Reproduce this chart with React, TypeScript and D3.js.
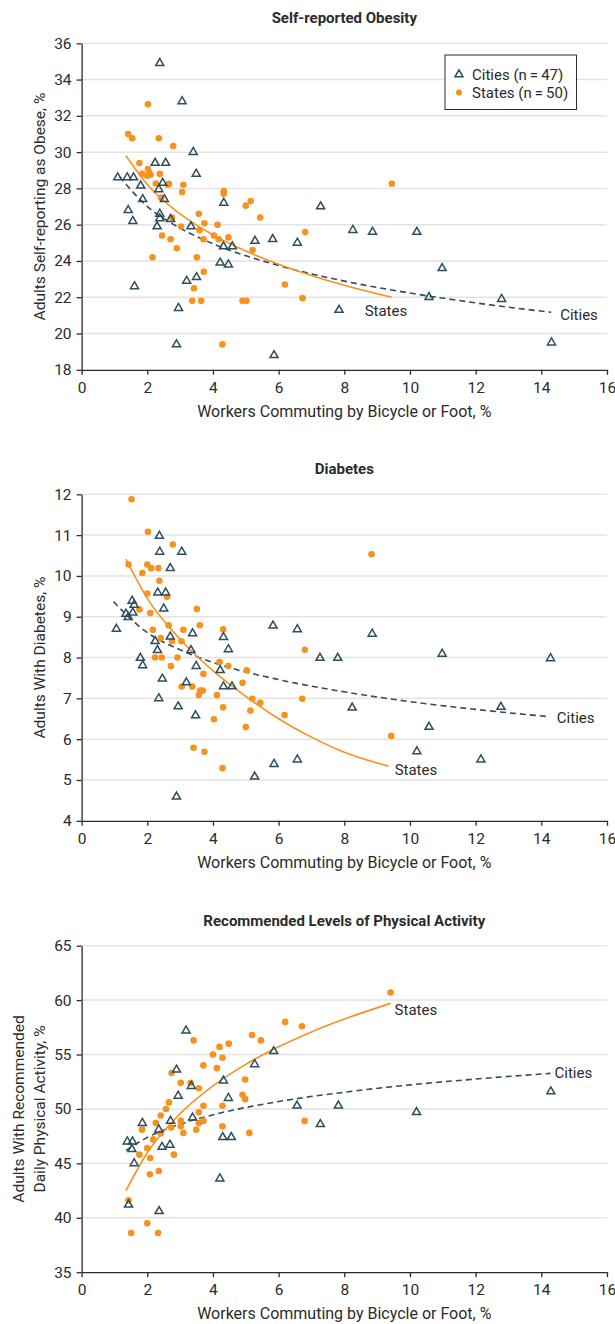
import React, { useEffect, useRef } from 'react';
import * as d3 from 'd3';

// ---- data ----
const xTicks = [0, 2, 4, 6, 8, 10, 12, 14, 16];

const obesityTicks = [18, 20, 22, 24, 26, 28, 30, 32, 34, 36];
const diabetesTicks = [4, 5, 6, 7, 8, 9, 10, 11, 12];
const activityTicks = [35, 40, 45, 50, 55, 60, 65];

const obesityCities = [
  [2.38, 34.9], [3.06, 32.8], [3.4, 30.0], [2.24, 29.4], [2.56, 29.4], [3.49, 28.8], [1.1, 28.6],
  [1.39, 28.6], [1.58, 28.6], [1.8, 28.15], [2.47, 28.3], [2.35, 27.95], [1.86, 27.4], [2.52, 27.4],
  [4.33, 27.2], [1.42, 26.8], [2.38, 26.6], [2.38, 26.35], [1.56, 26.2], [2.71, 26.3], [2.3, 25.9],
  [3.33, 25.9], [4.32, 24.8], [4.59, 24.8], [4.22, 23.9], [4.47, 23.8], [3.2, 22.9], [3.5, 23.1],
  [1.61, 22.6], [2.95, 21.4], [2.89, 19.4], [5.86, 18.8], [5.28, 25.1], [5.82, 25.2], [6.57, 25.0],
  [7.28, 27.0], [7.84, 21.3], [8.26, 25.7], [8.86, 25.6], [10.21, 25.6], [10.98, 23.6], [10.58, 22.0],
  [12.79, 21.9], [14.31, 19.5],
];
const obesityStates = [
  [2.02, 32.64], [1.42, 31.0], [1.54, 30.76], [2.35, 30.76], [2.79, 30.34], [1.76, 29.4], [1.84, 28.8],
  [2.02, 29.07], [2.06, 28.87], [2.0, 28.7], [2.1, 28.75], [2.38, 28.8], [2.26, 28.27], [2.62, 28.2],
  [2.66, 28.25], [3.1, 28.2], [3.06, 27.8], [4.33, 27.85], [4.33, 27.7], [5.0, 27.05], [5.15, 27.3],
  [2.42, 27.5], [2.75, 26.4], [3.57, 26.6], [3.74, 26.08], [5.44, 26.4], [4.14, 26.0], [3.03, 25.9],
  [3.59, 25.7], [4.03, 25.4], [4.18, 25.2], [4.47, 25.3], [3.71, 25.2], [2.45, 25.4], [2.71, 25.2],
  [2.9, 24.7], [5.21, 24.6], [6.81, 25.6], [2.16, 24.2], [3.51, 24.2], [3.72, 23.4], [3.42, 22.5],
  [3.37, 21.8], [3.64, 21.8], [4.9, 21.8], [5.02, 21.8], [6.19, 22.7], [6.73, 21.95], [4.29, 19.4],
  [9.45, 28.26],
];
const obesityCityFit = [
  [1.15, 28.65], [2, 27.01], [3, 25.81], [4, 24.95], [6, 23.75], [8, 22.89], [10, 22.23], [12, 21.69], [14.3, 21.17],
];
const obesityStateFit = [
  [1.35, 29.8], [2, 28.22], [3, 26.59], [4, 25.44], [5, 24.55], [6, 23.82], [7, 23.2], [8, 22.66], [9.45, 22.0],
];

const diabetesCities = [
  [2.37, 10.98], [2.38, 10.59], [3.05, 10.59], [2.7, 10.19], [2.32, 9.59], [2.56, 9.59], [1.54, 9.39],
  [1.6, 9.29], [2.5, 9.2], [1.35, 9.07], [1.56, 9.1], [1.42, 8.99], [1.06, 8.7], [2.7, 8.51], [3.38, 8.59],
  [4.32, 8.5], [2.24, 8.4], [2.31, 8.18], [3.33, 8.18], [4.47, 8.2], [1.79, 7.99], [1.86, 7.81],
  [3.49, 7.79], [4.22, 7.69], [2.46, 7.48], [3.19, 7.39], [4.32, 7.29], [4.58, 7.29], [2.35, 7.0],
  [2.94, 6.8], [3.47, 6.58], [5.86, 5.39], [6.57, 5.5], [5.27, 5.08], [2.89, 4.59], [5.83, 8.78],
  [6.57, 8.69], [7.26, 7.99], [7.8, 7.99], [8.85, 8.58], [10.98, 8.09], [14.28, 7.98], [8.24, 6.77],
  [12.77, 6.79], [10.58, 6.3], [10.21, 5.7], [12.16, 5.5],
];
const diabetesStates = [
  [1.52, 11.88], [2.02, 11.08], [2.78, 10.77], [1.43, 10.28], [2.0, 10.28], [2.12, 10.19], [2.34, 10.19],
  [1.85, 10.07], [2.37, 9.88], [2.0, 9.57], [2.6, 9.49], [1.76, 9.18], [3.51, 9.19], [2.09, 9.09],
  [2.65, 8.79], [3.6, 8.79], [2.17, 8.68], [3.1, 8.68], [4.31, 8.69], [2.41, 8.48], [2.75, 8.4],
  [3.04, 8.4], [2.24, 8.0], [2.44, 8.0], [2.92, 8.0], [4.2, 7.89], [2.72, 7.79], [4.47, 7.79],
  [5.03, 7.69], [3.71, 7.6], [4.9, 7.38], [3.05, 7.29], [3.37, 7.29], [3.61, 7.19], [3.69, 7.19],
  [3.57, 7.08], [4.12, 7.08], [5.2, 6.99], [5.44, 6.89], [6.72, 6.99], [4.31, 6.78], [5.14, 6.7],
  [6.18, 6.59], [4.03, 6.49], [5.0, 6.3], [3.41, 5.79], [3.74, 5.69], [4.29, 5.29], [6.8, 8.19],
  [8.83, 10.53], [9.43, 6.08],
];
const diabetesCityFit = [
  [0.97, 9.37], [2, 8.61], [3, 8.19], [4, 7.88], [6, 7.46], [8, 7.16], [10, 6.92], [12, 6.73], [14.26, 6.55],
];
const diabetesStateFit = [
  [1.35, 10.41], [2, 9.45], [3, 8.45], [4, 7.68], [5, 7.05], [6, 6.5], [7, 6.05], [8, 5.68], [9.35, 5.34],
];

const activityCities = [
  [3.18, 57.2], [5.85, 55.3], [5.27, 54.1], [2.89, 53.6], [4.32, 52.6], [3.34, 52.1], [2.94, 51.2],
  [4.47, 51.0], [6.56, 50.3], [7.82, 50.3], [3.38, 49.2], [2.71, 48.9], [1.85, 48.7], [2.35, 48.1],
  [7.27, 48.6], [1.39, 47.0], [1.55, 47.0], [1.53, 46.3], [2.69, 46.7], [2.45, 46.5], [4.3, 47.4],
  [4.56, 47.4], [1.6, 45.0], [4.21, 43.6], [1.43, 41.2], [2.36, 40.6], [10.2, 49.7], [14.29, 51.6],
];
const activityStates = [
  [6.2, 58.0], [6.71, 57.6], [5.19, 56.8], [3.41, 56.3], [5.46, 56.3], [4.48, 56.0], [4.2, 55.7],
  [4.0, 55.0], [4.29, 54.7], [3.71, 54.0], [4.12, 53.75], [2.74, 53.3], [3.02, 52.4], [3.32, 52.4],
  [4.98, 52.7], [3.57, 51.9], [4.9, 51.3], [4.98, 50.9], [2.66, 50.6], [3.71, 50.3], [4.29, 50.3],
  [2.57, 50.0], [2.41, 49.4], [3.57, 49.7], [3.02, 48.9], [3.71, 48.9], [2.26, 48.7], [3.57, 48.7],
  [6.79, 48.9], [2.73, 48.3], [3.02, 48.4], [4.29, 48.4], [1.84, 48.1], [2.41, 47.75], [3.1, 47.8],
  [3.49, 48.1], [5.11, 47.8], [2.18, 47.2], [2.0, 46.4], [1.76, 45.8], [2.81, 45.8], [2.09, 45.5],
  [2.35, 44.3], [2.08, 44.0], [1.43, 41.6], [2.0, 39.5], [1.51, 38.6], [2.33, 38.6], [9.41, 60.7],
];
const activityCityFit = [
  [1.35, 46.2], [2, 47.38], [3, 48.6], [4, 49.46], [6, 50.68], [8, 51.54], [10, 52.21], [12, 52.75], [14.28, 53.27],
];
const activityStateFit = [
  [1.35, 42.5], [2, 45.98], [3, 49.57], [4, 52.12], [5, 54.1], [6, 55.71], [7, 57.08], [8, 58.26], [9.41, 59.7],
];

const legendLabels = ['Cities (n\u2009=\u200947)', 'States (n\u2009=\u200950)'];

// ---- layout ----
const W = 615;
const H = 1324;
const FONT = 'Roboto, "Noto Sans", sans-serif';
const ORANGE = '#f6921e';
const SLATE = '#2e4d5e';
const INK = '#2b2b2b';
const GRID = '#e3e3e3';
const plotLeft = 81.6;
const plotRight = 607;
const plotH = 326.5;

const panels = [
  {
    title: 'Self-reported Obesity', yLabel: ['Adults Self-reporting as Obese, %'], top: 43.3,
    ticks: obesityTicks, cities: obesityCities, states: obesityStates,
    cityFit: obesityCityFit, stateFit: obesityStateFit,
    stateLabel: { dx: -6, dy: 19, anchor: 'middle' }, cityLabel: { dx: 9, dy: 8, anchor: 'start' }, legend: true,
  },
  {
    title: 'Diabetes', yLabel: ['Adults With Diabetes, %'], top: 494.3,
    ticks: diabetesTicks, cities: diabetesCities, states: diabetesStates,
    cityFit: diabetesCityFit, stateFit: diabetesStateFit,
    stateLabel: { dx: 6, dy: 9, anchor: 'start' }, cityLabel: { dx: 7, dy: 6, anchor: 'start' }, legend: false,
  },
  {
    title: 'Recommended Levels of Physical Activity', yLabel: ['Adults With Recommended', 'Daily Physical Activity, %'], top: 945.7,
    ticks: activityTicks, cities: activityCities, states: activityStates,
    cityFit: activityCityFit, stateFit: activityStateFit,
    stateLabel: { dx: 4, dy: 12, anchor: 'start' }, cityLabel: { dx: 4, dy: 5, anchor: 'start' }, legend: false,
  },
];

const App = () => {
  const svgRef = useRef(null);

  useEffect(() => {
    if (!svgRef.current) return;
    const svg = d3.select(svgRef.current);
    svg.selectAll('*').remove();

    const tri = d3.symbol().type(d3.symbolTriangle).size(28);

    panels.forEach((p) => {
      const bottom = p.top + plotH;
      const x = d3.scaleLinear().domain([0, 16]).range([plotLeft, plotRight]);
      const y = d3.scaleLinear()
        .domain([p.ticks[0], p.ticks[p.ticks.length - 1]])
        .range([bottom, p.top]);
      const g = svg.append('g');

      // gridlines
      g.append('g')
        .selectAll('line')
        .data(p.ticks.slice(1))
        .join('line')
        .attr('x1', plotLeft)
        .attr('x2', plotRight)
        .attr('y1', (d) => y(d))
        .attr('y2', (d) => y(d))
        .attr('stroke', GRID)
        .attr('stroke-width', 1.5);

      // axes
      const yAxis = g.append('g')
        .attr('transform', `translate(${plotLeft},0)`)
        .call(d3.axisLeft(y).tickValues(p.ticks).tickSize(5).tickSizeOuter(0).tickPadding(5));
      const xAxis = g.append('g')
        .attr('transform', `translate(0,${bottom})`)
        .call(d3.axisBottom(x).tickValues(xTicks).tickSize(5).tickSizeOuter(0).tickPadding(7));
      [yAxis, xAxis].forEach((a) => {
        a.selectAll('path, line').attr('stroke', INK).attr('stroke-width', 1.3);
        a.selectAll('text')
          .attr('fill', INK)
          .style('font-family', FONT)
          .style('font-size', '15.5px');
      });

      // title and axis labels
      g.append('text')
        .attr('x', (plotLeft + plotRight) / 2)
        .attr('y', p.top - 20)
        .attr('text-anchor', 'middle')
        .attr('fill', INK)
        .style('font-family', FONT)
        .style('font-size', '15px')
        .style('font-weight', 700)
        .text(p.title);

      g.append('text')
        .attr('x', (plotLeft + plotRight) / 2)
        .attr('y', bottom + 47)
        .attr('text-anchor', 'middle')
        .attr('fill', INK)
        .style('font-family', FONT)
        .style('font-size', '16px')
        .text('Workers Commuting by Bicycle or Foot, %');

      const midY = (p.top + bottom) / 2;
      const labelX = p.yLabel.length > 1 ? [24, 45] : [45];
      p.yLabel.forEach((line, i) => {
        g.append('text')
          .attr('transform', `translate(${labelX[i]},${midY}) rotate(-90)`)
          .attr('text-anchor', 'middle')
          .attr('fill', INK)
          .style('font-family', FONT)
          .style('font-size', '15.5px')
          .text(line);
      });

      // fitted curves
      const line = d3.line()
        .x((d) => x(d[0]))
        .y((d) => y(d[1]))
        .curve(d3.curveMonotoneX);

      g.append('path')
        .datum(p.cityFit)
        .attr('d', line)
        .attr('fill', 'none')
        .attr('stroke', SLATE)
        .attr('stroke-width', 1.6)
        .attr('stroke-dasharray', '6,4');

      g.append('path')
        .datum(p.stateFit)
        .attr('d', line)
        .attr('fill', 'none')
        .attr('stroke', ORANGE)
        .attr('stroke-width', 1.6);

      // points
      g.append('g')
        .selectAll('circle')
        .data(p.states)
        .join('circle')
        .attr('cx', (d) => x(d[0]))
        .attr('cy', (d) => y(d[1]))
        .attr('r', 3.3)
        .attr('fill', ORANGE);

      g.append('g')
        .selectAll('path')
        .data(p.cities)
        .join('path')
        .attr('transform', (d) => `translate(${x(d[0])},${y(d[1])})`)
        .attr('d', tri)
        .attr('fill', 'none')
        .attr('stroke', SLATE)
        .attr('stroke-width', 1.5);

      // curve end labels
      const cEnd = p.cityFit[p.cityFit.length - 1];
      const sEnd = p.stateFit[p.stateFit.length - 1];
      [[cEnd, p.cityLabel, 'Cities'], [sEnd, p.stateLabel, 'States']].forEach(([pt, lab, txt]) => {
        g.append('text')
          .attr('x', x(pt[0]) + lab.dx)
          .attr('y', y(pt[1]) + lab.dy)
          .attr('text-anchor', lab.anchor)
          .attr('fill', INK)
          .style('font-family', FONT)
          .style('font-size', '15px')
          .text(txt);
      });

      if (p.legend) {
        const lg = g.append('g').attr('transform', 'translate(445,55)');
        lg.append('rect')
          .attr('width', 131.5)
          .attr('height', 54.5)
          .attr('fill', '#fff')
          .attr('stroke', INK)
          .attr('stroke-width', 1);
        lg.append('path')
          .attr('transform', 'translate(14,19.5)')
          .attr('d', tri)
          .attr('fill', 'none')
          .attr('stroke', SLATE)
          .attr('stroke-width', 1.5);
        lg.append('circle')
          .attr('cx', 14)
          .attr('cy', 37.5)
          .attr('r', 3)
          .attr('fill', ORANGE);
        legendLabels.forEach((t, i) => {
          lg.append('text')
            .attr('x', 27)
            .attr('y', 24.5 + i * 18.5)
            .attr('fill', INK)
            .style('font-family', FONT)
            .style('font-size', '15px')
            .text(t);
        });
      }
    });
  }, []);

  return (
    <svg
      ref={svgRef}
      width={W}
      height={H}
      viewBox={`0 0 ${W} ${H}`}
      style={{ position: 'absolute', left: 0, top: 0, background: '#fff' }}
    />
  );
};

export default App;
